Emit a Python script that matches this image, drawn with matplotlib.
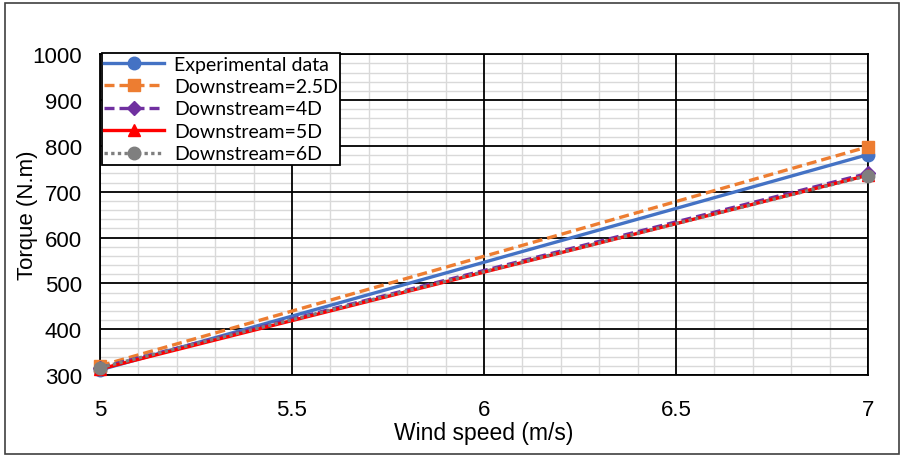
import matplotlib.pyplot as plt
from matplotlib.patches import Rectangle
from matplotlib.ticker import MultipleLocator

# wind speed (m/s) and torque (N.m) per case
wind_speed = [5, 7]
torque_exp = [311, 781]
torque_25d = [320, 798]
torque_4d = [316, 740]
torque_5d = [313, 736]
torque_6d = [316, 735]

fig = plt.figure(figsize=(9.04, 4.6), dpi=100)
ax = fig.add_axes([0.1106, 0.1826, 0.8496, 0.6974])

ax.plot(wind_speed, torque_exp, color="#4472C4", lw=2.4, marker="o", ms=9,
        label="Experimental data", clip_on=False, zorder=3)
ax.plot(wind_speed, torque_25d, color="#ED7D31", lw=2.4, ls=(0, (3, 1.5)), marker="s", ms=9,
        label="Downstream=2.5D", clip_on=False, zorder=3)
ax.plot(wind_speed, torque_4d, color="#7030A0", lw=2.4, ls=(0, (3, 1.5)), marker="D", ms=7,
        label="Downstream=4D", clip_on=False, zorder=3)
ax.plot(wind_speed, torque_5d, color="#FF0000", lw=2.4, marker="^", ms=9,
        label="Downstream=5D", clip_on=False, zorder=3)
ax.plot(wind_speed, torque_6d, color="#7F7F7F", lw=2.4, ls=(0, (1, 1)), marker="o", ms=9,
        label="Downstream=6D", clip_on=False, zorder=3)

ax.set_xlim(5, 7)
ax.set_ylim(300, 1000)
ax.xaxis.set_major_locator(MultipleLocator(0.5))
ax.xaxis.set_minor_locator(MultipleLocator(0.1))
ax.yaxis.set_major_locator(MultipleLocator(100))
ax.yaxis.set_minor_locator(MultipleLocator(20))

# light minor grid, black major lines on top of it
ax.grid(which="minor", color="#D9D9D9", lw=1.0, zorder=0)
ax.set_axisbelow(True)
for xv in ax.get_xticks():
    ax.axvline(xv, color="black", lw=1.3, zorder=1)
for yv in ax.get_yticks():
    ax.axhline(yv, color="black", lw=1.3, zorder=1)
for s in ax.spines.values():
    s.set_color("black")
    s.set_linewidth(1.3)

ax.tick_params(which="both", length=0, labelsize=16)
ax.tick_params(axis="x", pad=17)
ax.tick_params(axis="y", pad=13)
ax.xaxis.set_major_formatter(plt.FuncFormatter(lambda v, p: f"{v:g}"))
for lab in ax.get_xticklabels() + ax.get_yticklabels():
    lab.set_family("Liberation Sans")

ax.set_xlabel("Wind speed (m/s)", fontsize=16.5, family="Liberation Sans", labelpad=1)
ax.set_ylabel("Torque (N.m)", fontsize=16, family="Liberation Sans")
ax.yaxis.set_label_coords(-0.081, 0.5)

leg = ax.legend(loc="upper left", bbox_to_anchor=(0.002, 1.003), fancybox=False,
                framealpha=1, edgecolor="black", borderpad=0.12, labelspacing=0.28,
                handlelength=3.1, handletextpad=0.5, borderaxespad=0,
                prop={"family": "Lato", "size": 14})
leg.get_frame().set_linewidth(1.3)
leg.set_zorder(5)

# outer frame round the chart
fig.patches.append(Rectangle((0.006, 0.011), 0.988, 0.98, transform=fig.transFigure,
                             fill=False, edgecolor="#404040", lw=1.2))

fig.savefig("out.png", dpi=100)
